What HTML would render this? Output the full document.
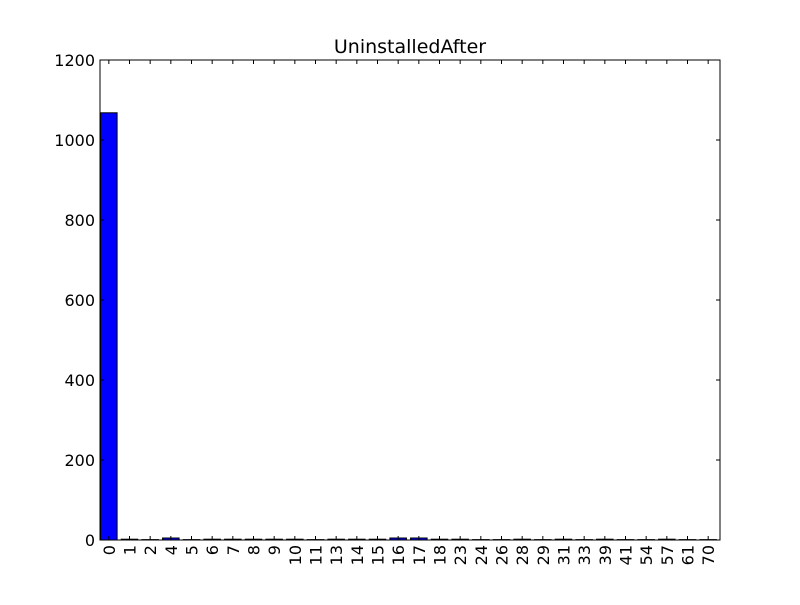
<!DOCTYPE html>
<html><head><meta charset="utf-8"><style>
body{margin:0;background:#fff}
svg text{font-family:"DejaVu Sans","Liberation Sans",sans-serif;}
</style></head><body>
<svg id="chart" width="800" height="600">
<rect x="0" y="0" width="800" height="600" fill="#fff"/>
<text x="410" y="53" font-size="19" text-anchor="middle">UninstalledAfter</text>
<g id="bars"></g>
<rect x="100" y="60" width="620" height="480" fill="none" stroke="#000" stroke-width="1"/>
<g id="axes"></g>
</svg>
<script>
const categories=["0","1","2","4","5","6","7","8","9","10","11","13","14","15","16","17","18","23","24","26","28","29","31","33","39","41","54","57","61","70"];
const values=[1068,2,1,5,1,2,2,2,2,2,1,2,2,2,5,5,2,2,1,1,2,1,2,1,2,1,1,2,1,1];
const yTicks=[0,200,400,600,800,1000,1200];
const L=100,R=720,T=60,B=540,yMax=1200;
const n=categories.length,unit=(R-L)/n;
const xC=i=>L+(i+0.5)*unit-1.5;
const y=v=>B-v/yMax*(B-T);
const NS="http://www.w3.org/2000/svg";
const bars=document.getElementById('bars'),axes=document.getElementById('axes');
function mk(tag,attrs,parent){const e=document.createElementNS(NS,tag);for(const k in attrs)e.setAttribute(k,attrs[k]);parent.appendChild(e);return e;}
values.forEach((v,i)=>{
 const w=unit*0.8;
 const r=mk('rect',{x:xC(i)-w/2,y:y(v),width:w,height:B-y(v),fill:'#0000ff',stroke:'#000','stroke-width':1},bars);
 
 
});
categories.forEach((c,i)=>{
 const x=xC(i);
 mk('line',{x1:x,x2:x,y1:B,y2:B-4,stroke:'#000'},axes);
 mk('line',{x1:x,x2:x,y1:T,y2:T+4,stroke:'#000'},axes);
 const t=mk('text',{x:0,y:0,'font-size':16,'text-anchor':'end',transform:`translate(${x+6},${B+5}) rotate(-90)`},axes);
 t.textContent=c;
 
 
});
yTicks.forEach(v=>{
 const yy=y(v);
 mk('line',{x1:L,x2:L+4,y1:yy,y2:yy,stroke:'#000'},axes);
 mk('line',{x1:R,x2:R-4,y1:yy,y2:yy,stroke:'#000'},axes);
 const t=mk('text',{x:L-5,y:yy+6,'font-size':16,'text-anchor':'end'},axes);
 t.textContent=v;
 
 
});
</script>
</body></html>
